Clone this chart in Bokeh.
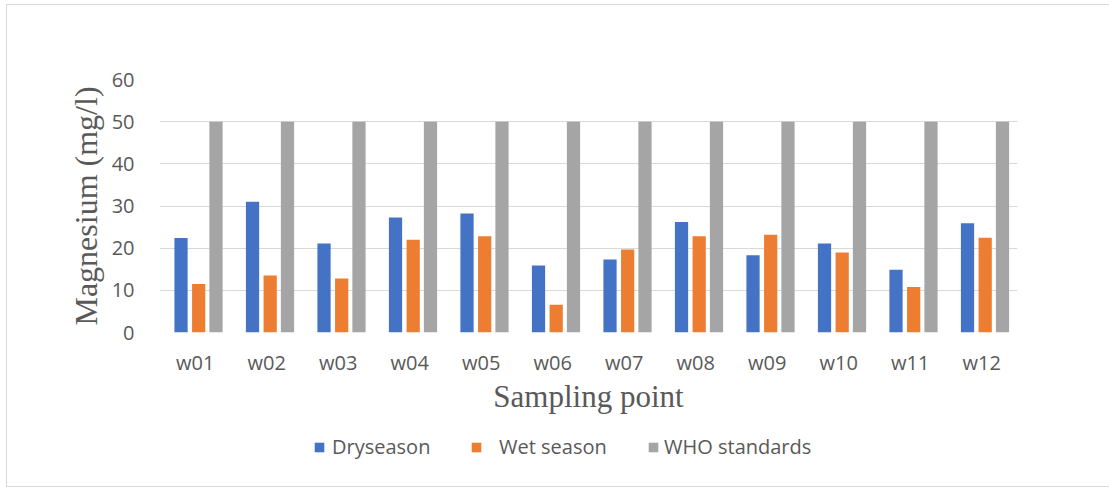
from bokeh.plotting import figure
from bokeh.models import FactorRange, Range1d, Legend, LegendItem, SingleIntervalTicker, Column
from bokeh.transform import dodge
from bokeh.embed import file_html
from bokeh.resources import INLINE
from bokeh.models import ColumnDataSource

sites = ["w01", "w02", "w03", "w04", "w05", "w06", "w07", "w08", "w09", "w10", "w11", "w12"]
dry_season = [22.4, 31.0, 21.1, 27.3, 28.2, 15.9, 17.3, 26.2, 18.3, 21.1, 14.9, 25.9]
wet_season = [11.5, 13.5, 12.8, 22.0, 22.8, 6.6, 19.7, 22.8, 23.2, 19.0, 10.8, 22.5]
who_standard = [50, 50, 50, 50, 50, 50, 50, 50, 50, 50, 50, 50]
series_names = ["Dryseason", "Wet season", "WHO standards"]
series_cols = ["dry", "wet", "who"]
colors = ["#4472C4", "#ED7D31", "#A5A5A5"]
offsets = [-0.199, 0.048, 0.29]

src = ColumnDataSource(dict(site=sites, dry=dry_season, wet=wet_season, who=who_standard))

TXT = "#595959"
p = figure(x_range=FactorRange(factors=sites), y_range=Range1d(0, 60),
           width=1102, height=420, output_backend="svg", toolbar_location=None,
           min_border_left=152, min_border_right=92, min_border_top=74, min_border_bottom=93)
p.outline_line_color = None
p.xgrid.grid_line_color = None
p.ygrid.grid_line_color = "#d9d9d9"
p.ygrid.grid_line_width = 1
p.yaxis.ticker = SingleIntervalTicker(interval=10)

w = 0.185
for col, c, off in zip(series_cols, colors, offsets):
    p.vbar(x=dodge("site", off, range=p.x_range), top=col, width=w, source=src, color=c, line_color=None)

for ax in (p.xaxis[0], p.yaxis[0]):
    ax.axis_line_color = None
    ax.major_tick_line_color = None
    ax.minor_tick_line_color = None
    ax.major_label_text_font = "Open Sans"
    ax.major_label_text_font_size = "20px"
    ax.major_label_text_color = TXT
    ax.axis_label_text_font = "Liberation Serif"
    ax.axis_label_text_font_style = "normal"
    ax.axis_label_text_color = TXT

p.xaxis.axis_label = "Sampling point"
p.xaxis.axis_label_text_font_size = "31px"
p.xaxis.major_label_standoff = 10
p.xaxis.axis_label_standoff = 0
p.yaxis.axis_label = "Magnesium (mg/l)"
p.yaxis.axis_label_text_font_size = "32px"
p.yaxis.major_label_standoff = 19
p.yaxis.axis_label_standoff = 5

# legend strip (keys only; its bars lie outside its visible range)
lf = figure(x_range=FactorRange(factors=sites), y_range=Range1d(1000, 1001),
            width=1102, height=61, output_backend="svg", toolbar_location=None,
            x_axis_type=None, y_axis_type=None,
            min_border_left=0, min_border_right=0, min_border_top=0, min_border_bottom=0)
lf.outline_line_color = None
lf.xgrid.visible = False
lf.ygrid.visible = False

xs = [154, 311, 488]
standoffs = [7, 17, 5]
for name, col, c, x, so in zip(series_names, series_cols, colors, xs, standoffs):
    r = lf.vbar(x="site", top=col, width=w, source=src, color=c, line_color=None)
    lg = Legend(items=[LegendItem(label=name, renderers=[r])], location=(x, 26),
                orientation="horizontal", padding=0, spacing=0, margin=0,
                border_line_color=None, background_fill_alpha=0,
                glyph_width=12, glyph_height=12, label_standoff=so,
                label_text_font="Open Sans", label_text_font_size="20px",
                label_text_color=TXT, label_height=20)
    lf.add_layout(lg, "center")

layout = Column(children=[p, lf], spacing=0)
layout.styles = {"margin-left": "6px", "margin-top": "4px",
                 "border-left": "1px solid #d9d9d9", "border-top": "1px solid #d9d9d9",
                 "border-bottom": "1px solid #d9d9d9"}

open("out.html", "w").write(file_html(layout, INLINE))
